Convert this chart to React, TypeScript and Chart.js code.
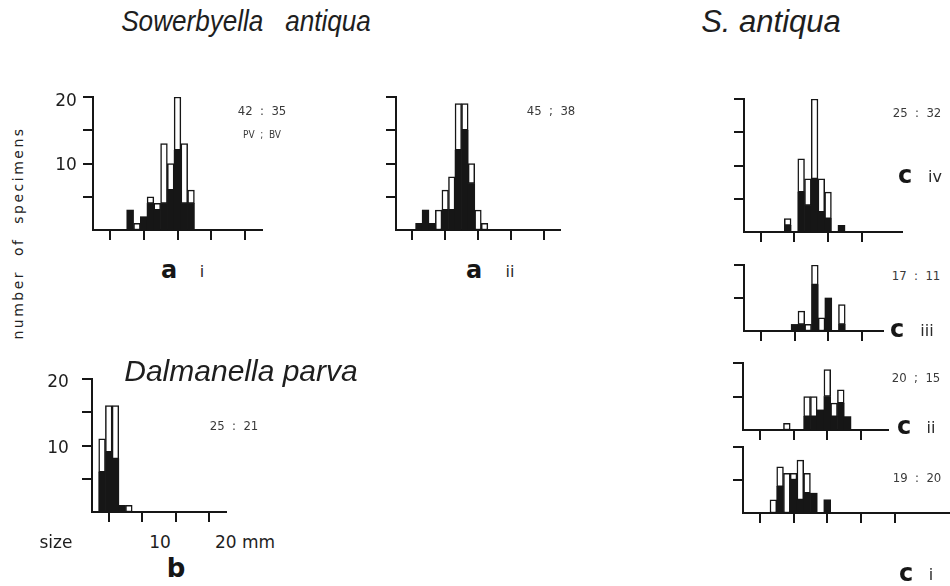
import React, { useEffect, useRef } from 'react';
import { Chart, registerables } from 'chart.js';
Chart.register(...registerables);

// ---- data: 1-mm size classes (lower bound, mm); PV = black, BV = white (stacked on top)
const binsAi = [5, 6, 7, 8, 9, 10, 11, 12, 13, 14];
const pvAi = [3, 0, 2, 4, 3, 4, 6, 12, 4, 4];
const bvAi = [0, 1, 0, 1, 1, 9, 4, 8, 9, 2];

const binsAii = [3, 4, 5, 6, 7, 8, 9, 10, 11, 12, 13];
const pvAii = [1, 3, 1, 0, 3, 3, 12, 15, 7, 0, 0];
const bvAii = [0, 0, 0, 3, 3, 5, 7, 4, 3, 3, 1];

const binsB = [1, 2, 3, 4, 5];
const pvB = [6, 9, 8, 1, 0];
const bvB = [5, 7, 8, 0, 1];

const binsCiv = [6, 7, 8, 9, 10, 11, 12, 13, 14];
const pvCiv = [1, 0, 6, 4, 8, 3, 2, 0, 1];
const bvCiv = [1, 0, 5, 4, 12, 5, 4, 0, 0];

const binsCiii = [7, 8, 9, 10, 11, 12, 13, 14];
const pvCiii = [1, 1, 0, 7, 0, 5, 0, 1];
const bvCiii = [0, 2, 1, 3, 2, 0, 0, 3];

const binsCii = [6, 7, 8, 9, 10, 11, 12, 13, 14, 15];
const pvCii = [0, 0, 0, 2, 2, 3, 5, 2, 4, 2];
const bvCii = [1, 0, 0, 3, 3, 0, 4, 2, 2, 0];

const binsCi = [4, 5, 6, 7, 8, 9, 10, 11, 12];
const pvCi = [0, 4, 0, 5, 2, 3, 3, 0, 2];
const bvCi = [2, 3, 6, 1, 6, 3, 0, 0, 0];

const ratioAi = '42  :  35';
const ratioAii = '45  ;  38';
const ratioB = '25  :  21';
const ratioCiv = '25  :  32';
const ratioCiii = '17  :  11';
const ratioCii = '20  ;  15';
const ratioCi = '19  :  20';

const INK = '#161616';
const PAD = 6;
const TL = 10;

type HistProps = {
  bins: number[];
  pv: number[];
  bv: number[];
  ymax: number;
  xmax: number;
  xTickMax: number;
  area: [number, number, number, number];
};

function Hist({ bins, pv, bv, ymax, xmax, xTickMax, area }: HistProps) {
  const ref = useRef<HTMLCanvasElement>(null);
  const [l, t, r, b] = area;
  const left = l - TL - PAD;
  const top = t - PAD;
  const w = r - l + TL + 2 * PAD;
  const h = b - t + TL + 2 * PAD;
  useEffect(() => {
    const axisCommon = {
      border: { display: true, width: 2, color: INK },
      grid: { drawOnChartArea: false, drawTicks: true, tickLength: TL, color: INK, lineWidth: 2 },
    };
    const chart = new Chart(ref.current as HTMLCanvasElement, {
      type: 'bar',
      data: {
        datasets: [
          {
            label: 'PV',
            data: bins.map((v, i) => ({ x: v + 0.5, y: pv[i] })),
            backgroundColor: INK,
            borderColor: INK,
            borderWidth: 0,
            barPercentage: 1,
            categoryPercentage: 1,
          },
          {
            label: 'BV',
            data: bins.map((v, i) => ({ x: v + 0.5, y: bv[i] })),
            backgroundColor: '#ffffff',
            borderColor: INK,
            borderWidth: 1.5,
            borderSkipped: false,
            barPercentage: 1,
            categoryPercentage: 1,
          },
        ],
      } as any,
      options: {
        animation: false,
        responsive: false,
        devicePixelRatio: 1,
        layout: { padding: PAD },
        plugins: { legend: { display: false }, tooltip: { enabled: false } },
        scales: {
          x: {
            type: 'linear',
            min: 0,
            max: xmax,
            stacked: true,
            offset: false,
            ...axisCommon,
            ticks: { display: false, stepSize: 5 },
            afterBuildTicks: (s: any) => {
              s.ticks = s.ticks.filter((tk: any) => tk.value > 0 && tk.value <= xTickMax && tk.value % 5 === 0);
            },
          },
          y: {
            type: 'linear',
            min: 0,
            max: ymax,
            stacked: true,
            ...axisCommon,
            ticks: { display: false, stepSize: 5 },
            afterBuildTicks: (s: any) => {
              s.ticks = s.ticks.filter((tk: any) => tk.value > 0 && tk.value % 5 === 0);
            },
          },
        },
      } as any,
    });
    return () => chart.destroy();
  }, []);
  return <canvas ref={ref} width={w} height={h} style={{ position: 'absolute', left, top }} />;
}

type TProps = { x: number; y: number; children: React.ReactNode; style?: React.CSSProperties; sx?: number };
function T({ x, y, children, style, sx = 1 }: TProps) {
  return (
    <div
      style={{
        position: 'absolute',
        left: x,
        top: y,
        transform: `translate(-50%, -50%) scaleX(${sx})`,
        whiteSpace: 'pre',
        lineHeight: 1,
        color: INK,
        fontFamily: "'DejaVu Sans', sans-serif",
        ...style,
      }}
    >
      {children}
    </div>
  );
}

const titleFont: React.CSSProperties = {
  fontFamily: "'Liberation Sans', Arial, sans-serif",
  fontStyle: 'italic',
  fontSize: 29,
  color: '#1e1e1e',
};
const ratioFont: React.CSSProperties = {
  fontFamily: "'DejaVu Sans Condensed', 'DejaVu Sans', sans-serif",
  fontSize: 13,
  color: '#3a3a3a',
};
const bigLetter: React.CSSProperties = { fontFamily: "'DejaVu Sans', sans-serif", fontWeight: 'bold', fontSize: 24 };
const roman: React.CSSProperties = { fontFamily: "'DejaVu Sans', sans-serif", fontSize: 16, color: '#2a2a2a' };
const axisNum: React.CSSProperties = { fontFamily: "'DejaVu Sans', sans-serif", fontSize: 17, color: '#1e1e1e' };

export default function App() {
  return (
    <div style={{ position: 'absolute', left: 0, top: 0, width: 950, height: 586, overflow: 'hidden', background: '#fff' }}>
      <Hist bins={binsAi} pv={pvAi} bv={bvAi} ymax={20} xmax={25} xTickMax={25} area={[93, 97, 262, 230]} />
      <Hist bins={binsAii} pv={pvAii} bv={bvAii} ymax={20} xmax={25} xTickMax={25} area={[396, 97, 560, 230]} />
      <Hist bins={binsB} pv={pvB} bv={bvB} ymax={20} xmax={20} xTickMax={20} area={[92, 379, 226, 512]} />
      <Hist bins={binsCiv} pv={pvCiv} bv={bvCiv} ymax={20} xmax={23.5} xTickMax={20} area={[744, 99, 902, 232]} />
      <Hist bins={binsCiii} pv={pvCiii} bv={bvCiii} ymax={10} xmax={20.6} xTickMax={20} area={[744, 265, 883, 331.5]} />
      <Hist bins={binsCii} pv={pvCii} bv={bvCii} ymax={10} xmax={21.5} xTickMax={20} area={[743, 363, 888, 430]} />
      <Hist bins={binsCi} pv={pvCi} bv={bvCi} ymax={10} xmax={31} xTickMax={20} area={[743, 447, 952, 513]} />

      <T x={246} y={21} sx={0.9} style={titleFont}>{'Sowerbyella   antiqua'}</T>
      <T x={771} y={21} style={{ ...titleFont, fontSize: 31 }}>{'S. antiqua'}</T>
      <T x={241} y={371} style={{ ...titleFont, fontSize: 30 }}>{'Dalmanella parva'}</T>

      <T x={18} y={233} style={{ ...roman, fontSize: 14, letterSpacing: 2.5, color: '#222', transform: 'translate(-50%, -50%) rotate(-90deg)' }}>
        {'number  of  specimens'}
      </T>

      <T x={66} y={100} style={axisNum}>20</T>
      <T x={66} y={164} style={axisNum}>10</T>
      <T x={58} y={381} style={axisNum}>20</T>
      <T x={58} y={447} style={axisNum}>10</T>

      <T x={262} y={110} style={ratioFont}>{ratioAi}</T>
      <T x={262} y={135} style={{ ...ratioFont, fontSize: 10 }}>{'PV  ;  BV'}</T>
      <T x={551} y={110} style={ratioFont}>{ratioAii}</T>
      <T x={234} y={425} style={ratioFont}>{ratioB}</T>
      <T x={917} y={112} style={ratioFont}>{ratioCiv}</T>
      <T x={916} y={275} style={ratioFont}>{ratioCiii}</T>
      <T x={916} y={377} style={ratioFont}>{ratioCii}</T>
      <T x={917} y={477} style={ratioFont}>{ratioCi}</T>

      <T x={169} y={270} style={bigLetter}>a</T>
      <T x={202} y={272} style={roman}>i</T>
      <T x={474} y={270} style={bigLetter}>a</T>
      <T x={510} y={272} style={roman}>ii</T>

      <T x={905} y={175} style={bigLetter}>c</T>
      <T x={935} y={177} style={roman}>iv</T>
      <T x={897} y={329} style={bigLetter}>c</T>
      <T x={927} y={331} style={roman}>iii</T>
      <T x={904} y={426} style={bigLetter}>c</T>
      <T x={931} y={428} style={roman}>ii</T>
      <T x={906} y={573} style={bigLetter}>c</T>
      <T x={931} y={575} style={roman}>i</T>

      <T x={56} y={542} style={axisNum}>size</T>
      <T x={160} y={542} style={axisNum}>10</T>
      <T x={245} y={542} style={axisNum}>{'20 mm'}</T>
      <T x={176} y={568} style={{ ...bigLetter, fontSize: 26 }}>b</T>
    </div>
  );
}
